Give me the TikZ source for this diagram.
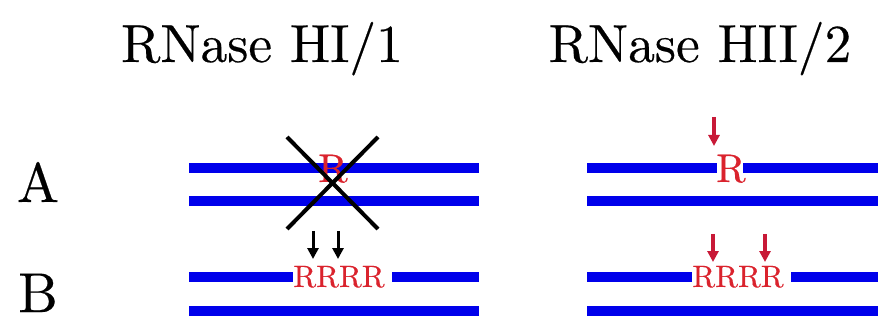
\documentclass[tikz,border=0pt]{standalone}
\usepackage{fontspec}
\newfontfamily\lmheavy{lmroman10-regular.otf}[FakeBold=0.35]
\usetikzlibrary{arrows.meta}
\definecolor{dnablue}{RGB}{0,0,235}
\definecolor{rnared}{RGB}{218,35,45}
\definecolor{arrred}{RGB}{200,25,55}
\begin{document}
\begin{tikzpicture}[x=1pt,y=-1pt,
  strand/.style={draw=dnablue,line width=10pt,line cap=butt},
  title/.style={anchor=base,inner sep=0pt,font=\lmheavy\fontsize{53.5}{60}\selectfont},
  rowlab/.style={anchor=base,inner sep=0pt,font=\lmheavy\fontsize{56}{60}\selectfont},
  rone/.style={anchor=base,inner sep=0pt,text=rnared,font=\lmheavy\fontsize{40}{44}\selectfont},
  rfour/.style={anchor=base,inner sep=0pt,text=rnared,font=\lmheavy\fontsize{31}{36}\selectfont},
  blkarrow/.style={draw=black,line width=3pt,-{Triangle[width=11pt,length=11pt]}},
  redarrow/.style={draw=arrred,fill=arrred,line width=4.5pt,-{Triangle[width=11pt,length=11pt]}},
  crossline/.style={draw=black,line width=4pt}]
\useasboundingbox (0,0) rectangle (878,331);
% titles and row labels
\node[title] (t1) at (262,62) {RNase HI/1};
\node[title] (t2) at (700,62) {RNase HII/2};
\node[rowlab] (la) at (38,202) {A};
\node[rowlab] (lb) at (38,312) {B};
% left A
\coordinate (lA1s) at (189,168); \coordinate (lA1e) at (479,168);
\coordinate (lA2s) at (189,201); \coordinate (lA2e) at (479,201);
\draw[strand] (lA1s) -- (lA1e);
\draw[strand] (lA2s) -- (lA2e);
\node[rone] (rLA) at (333,182) {R};
\coordinate (x1) at (287,137); \coordinate (x2) at (378,229);
\coordinate (x3) at (378,137); \coordinate (x4) at (287,229);
\draw[crossline] (x1) -- (x2);
\draw[crossline] (x3) -- (x4);
% right A
\node[rone] (rRA) at (731,182) {R};
\coordinate (rA1s) at (587,168); \coordinate (rA1a) at (717,168);
\coordinate (rA1b) at (743,168); \coordinate (rA1e) at (878,168);
\coordinate (rA2s) at (587,201); \coordinate (rA2e) at (878,201);
\draw[strand] (rA1s) -- (rA1a);
\draw[strand] (rA1b) -- (rA1e);
\draw[strand] (rA2s) -- (rA2e);
\coordinate (ra0) at (714,117); \coordinate (ra1) at (714,146);
\draw[redarrow] (ra0) -- (ra1);
% left B
\node[rfour] (rLB) at (339,287) {RRRR};
\coordinate (lB1s) at (189,277); \coordinate (lB1a) at (293,277);
\coordinate (lB1b) at (392,277); \coordinate (lB1e) at (479,277);
\coordinate (lB2s) at (189,311); \coordinate (lB2e) at (479,311);
\draw[strand] (lB1s) -- (lB1a);
\draw[strand] (lB1b) -- (lB1e);
\draw[strand] (lB2s) -- (lB2e);
\coordinate (ba0) at (313,231); \coordinate (ba1) at (313,259);
\coordinate (bb0) at (338,231); \coordinate (bb1) at (338,259);
\draw[blkarrow] (ba0) -- (ba1);
\draw[blkarrow] (bb0) -- (bb1);
% right B
\node[rfour] (rRB) at (738,287) {RRRR};
\coordinate (rB1s) at (587,277); \coordinate (rB1a) at (692,277);
\coordinate (rB1b) at (791,277); \coordinate (rB1e) at (878,277);
\coordinate (rB2s) at (587,311); \coordinate (rB2e) at (878,311);
\draw[strand] (rB1s) -- (rB1a);
\draw[strand] (rB1b) -- (rB1e);
\draw[strand] (rB2s) -- (rB2e);
\coordinate (rc0) at (713,234); \coordinate (rc1) at (713,262);
\coordinate (rd0) at (765,234); \coordinate (rd1) at (765,262);
\draw[redarrow] (rc0) -- (rc1);
\draw[redarrow] (rd0) -- (rd1);
\end{tikzpicture}
\end{document}
